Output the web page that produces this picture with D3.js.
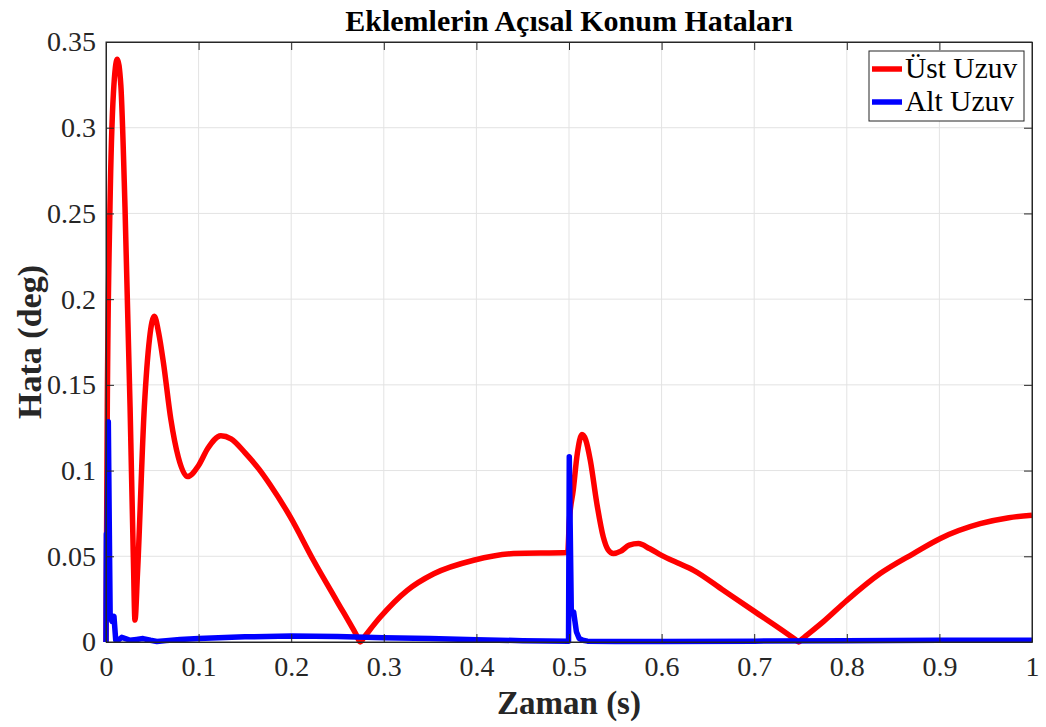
<!DOCTYPE html>
<html>
<head>
<meta charset="utf-8">
<script src="https://cdn.jsdelivr.net/npm/d3@7"></script>
<style>
  body { margin: 0; background: #fff; }
  text { font-family: "Liberation Serif", "Times New Roman", serif; }
</style>
</head>
<body>
<svg id="chart" width="1046" height="727"></svg>
<script>
// Üst Uzuv (red)
const ustT = [0, 0.0014, 0.0043, 0.008, 0.0122, 0.016, 0.0205, 0.026, 0.0295, 0.0313, 0.034, 0.0414, 0.047, 0.0522,
  0.057, 0.062, 0.07, 0.078, 0.088, 0.1, 0.11, 0.124, 0.135, 0.15, 0.165, 0.1774, 0.199, 0.224, 0.249, 0.270, 0.2746,
  0.279, 0.296, 0.325, 0.354, 0.397, 0.44, 0.4986, 0.5003, 0.5046, 0.509, 0.514, 0.518, 0.523, 0.530, 0.537,
  0.542, 0.548, 0.556, 0.565, 0.575, 0.587, 0.600, 0.617, 0.6346, 0.667, 0.699, 0.744, 0.748, 0.752, 0.775, 0.800,
  0.836, 0.872, 0.901, 0.944, 0.975, 1.0];
const ustV = [0, 0.137, 0.254, 0.32, 0.34, 0.325, 0.254, 0.137, 0.05, 0.0128, 0.04, 0.137, 0.177, 0.19,
  0.18, 0.163, 0.13, 0.108, 0.0965, 0.103, 0.113, 0.1203, 0.1185, 0.1105, 0.101, 0.0916, 0.073, 0.0477, 0.0242, 0.0045, 0,
  0.003, 0.0144, 0.030, 0.0398, 0.0477, 0.0516, 0.0522, 0.07, 0.0887, 0.11, 0.121, 0.118, 0.106, 0.081, 0.0613,
  0.054, 0.0516, 0.053, 0.0565, 0.0574, 0.0545, 0.0505, 0.0462, 0.0418, 0.030, 0.0183, 0.0016, 0, 0.0018, 0.012, 0.0242,
  0.0399, 0.0516, 0.0604, 0.069, 0.0725, 0.074];

// Alt Uzuv (blue)
const altT = [0, 0.0004, 0.0012, 0.0025, 0.0035, 0.0045, 0.0065, 0.0086, 0.0105, 0.013, 0.017, 0.021, 0.026,
  0.033, 0.04, 0.048, 0.055, 0.065, 0.08, 0.1, 0.15, 0.2, 0.25, 0.3, 0.35, 0.4, 0.45, 0.4995, 0.5003, 0.5025,
  0.505, 0.508, 0.511, 0.515, 0.52, 0.55, 0.6, 0.7, 0.8, 0.9, 1.0];
const altV = [0, 0.063, 0.06, 0.1285, 0.07, 0.0147, 0.012, 0.015, 0.001, 0.001, 0.0027, 0.002, 0.001,
  0.0015, 0.002, 0.001, 0.0003, 0.0008, 0.0015, 0.002, 0.003, 0.0035, 0.0032, 0.0025, 0.002, 0.0013, 0.0008,
  0.0005, 0.108, 0.017, 0.0175, 0.006, 0.002, 0.001, 0.0005, 0.0003, 0.0003, 0.0005, 0.0007, 0.001, 0.001];

const xTicks = [0, 0.1, 0.2, 0.3, 0.4, 0.5, 0.6, 0.7, 0.8, 0.9, 1];
const yTicks = [0, 0.05, 0.1, 0.15, 0.2, 0.25, 0.3, 0.35];
const seriesNames = ["Üst Uzuv", "Alt Uzuv"];
const seriesColors = ["#ff0000", "#0000ff"];

const svg = d3.select("#chart");
const margin = { left: 106, top: 42, right: 14, bottom: 85 };
const width = 1046 - margin.left - margin.right;
const height = 727 - margin.top - margin.bottom;

const x = d3.scaleLinear().domain([0, 1]).range([0, width]);
const y = d3.scaleLinear().domain([0, 0.35]).range([height, 0]);

const g = svg.append("g").attr("transform", `translate(${margin.left},${margin.top})`);

// grid
g.selectAll(".gx").data(xTicks.slice(1, -1)).enter().append("line")
  .attr("x1", d => x(d)).attr("x2", d => x(d)).attr("y1", 0).attr("y2", height)
  .attr("stroke", "#e3e3e3").attr("stroke-width", 1);
g.selectAll(".gy").data(yTicks.slice(1, -1)).enter().append("line")
  .attr("y1", d => y(d)).attr("y2", d => y(d)).attr("x1", 0).attr("x2", width)
  .attr("stroke", "#e3e3e3").attr("stroke-width", 1);

// lines
g.append("path")
  .datum(ustT.map((t, i) => [t, ustV[i]]))
  .attr("d", d3.line().x(d => x(d[0])).y(d => y(d[1])).curve(d3.curveMonotoneX))
  .attr("fill", "none").attr("stroke", seriesColors[0]).attr("stroke-width", 5.5)
  .attr("stroke-linejoin", "round");
g.append("path")
  .datum(altT.map((t, i) => [t, altV[i]]))
  .attr("d", d3.line().x(d => x(d[0])).y(d => y(d[1])))
  .attr("fill", "none").attr("stroke", seriesColors[1]).attr("stroke-width", 5.5)
  .attr("stroke-linejoin", "round");

// axes (ticks inside, box on)
const tl = 8;
const axisColor = "#262626";
const fmt = d => d3.format("")(+d.toFixed(2));
g.append("g").attr("transform", `translate(0,${height})`)
  .call(d3.axisBottom(x).tickValues(xTicks).tickSizeInner(-tl).tickSizeOuter(0).tickPadding(14).tickFormat(fmt));
g.append("g")
  .call(d3.axisLeft(y).tickValues(yTicks).tickSizeInner(-tl).tickSizeOuter(0).tickPadding(10).tickFormat(fmt));
g.append("g")
  .call(d3.axisTop(x).tickValues(xTicks).tickSizeInner(-tl).tickSizeOuter(0).tickFormat(""));
g.append("g").attr("transform", `translate(${width},0)`)
  .call(d3.axisRight(y).tickValues(yTicks).tickSizeInner(-tl).tickSizeOuter(0).tickFormat(""));
g.selectAll(".domain").attr("stroke", axisColor);
g.selectAll(".tick line").attr("stroke", axisColor);
g.selectAll(".tick text").attr("fill", axisColor)
  .style("font-family", '"Liberation Serif", serif').style("font-size", "28px");
g.append("rect").attr("width", width).attr("height", height)
  .attr("fill", "none").attr("stroke", axisColor).attr("stroke-width", 1);

// title and labels
svg.append("text").attr("x", margin.left + width / 2).attr("y", 31)
  .attr("text-anchor", "middle").attr("font-weight", "bold").attr("font-size", 30)
  .attr("fill", "#000").text("Eklemlerin Açısal Konum Hataları");
svg.append("text").attr("x", margin.left + width / 2).attr("y", 714)
  .attr("text-anchor", "middle").attr("font-weight", "bold").attr("font-size", 33)
  .attr("fill", axisColor).text("Zaman (s)");
svg.append("text").attr("transform", `translate(41,${margin.top + height / 2}) rotate(-90)`)
  .attr("text-anchor", "middle").attr("font-weight", "bold").attr("font-size", 34)
  .attr("fill", axisColor).text("Hata (deg)");

// legend
const lg = svg.append("g");
lg.append("rect").attr("x", 869).attr("y", 51).attr("width", 155).attr("height", 70)
  .attr("fill", "#fff").attr("stroke", axisColor).attr("stroke-width", 1);
seriesNames.forEach((name, i) => {
  const ly = 69 + i * 33;
  lg.append("line").attr("x1", 872).attr("x2", 902).attr("y1", ly).attr("y2", ly)
    .attr("stroke", seriesColors[i]).attr("stroke-width", 5.5);
  lg.append("text").attr("x", 905).attr("y", ly + 9).attr("font-size", 29.5)
    .attr("fill", "#000").text(name);
});
</script>
</body>
</html>
